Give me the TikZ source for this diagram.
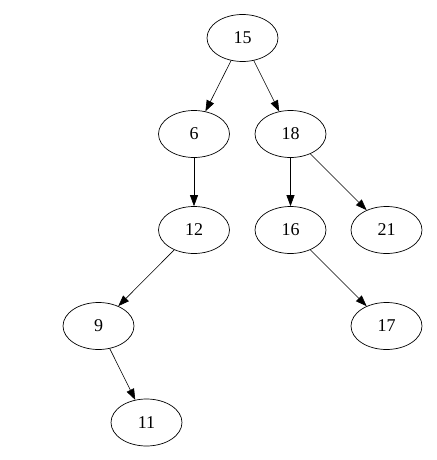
\documentclass[tikz,border=0pt]{standalone}
\usepackage{fontspec}
\setmainfont{Liberation Serif}
\usetikzlibrary{arrows.meta,shapes.geometric}
\begin{document}
\begin{tikzpicture}[x=1pt,y=-1pt,
  tnode/.style={draw,ellipse,minimum width=71pt,minimum height=47pt,inner sep=0pt,font=\fontsize{18}{20}\selectfont,line width=0.7pt},
  tedge/.style={draw,line width=0.6pt,-{Triangle[length=11pt,width=8pt]}}]
\useasboundingbox (0,0) rectangle (436,460);
\node[tnode] (n15) at (242.5,38) {15};
\node[tnode] (n6) at (194,134) {6};
\node[tnode] (n18) at (290.5,134) {18};
\node[tnode] (n12) at (194,230) {12};
\node[tnode] (n16) at (290.5,230) {16};
\node[tnode] (n21) at (386.5,230) {21};
\node[tnode] (n9) at (98.5,326) {9};
\node[tnode] (n17) at (386.5,326) {17};
\node[tnode] (n11) at (146.5,422.5) {11};
\draw[tedge] (n15) -- (n6);
\draw[tedge] (n15) -- (n18);
\draw[tedge] (n6) -- (n12);
\draw[tedge] (n18) -- (n16);
\draw[tedge] (n18) -- (n21);
\draw[tedge] (n12) -- (n9);
\draw[tedge] (n9) -- (n11);
\draw[tedge] (n16) -- (n17);
\end{tikzpicture}
\end{document}
